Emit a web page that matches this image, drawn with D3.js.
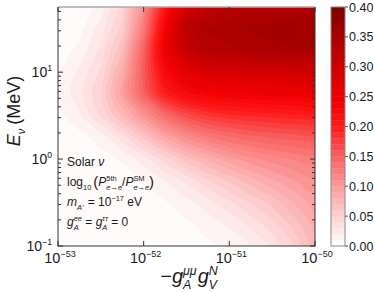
<!DOCTYPE html>
<html>
<head>
<meta charset="utf-8">
<script src="https://cdn.jsdelivr.net/npm/d3@7"></script>
<style>
body { margin: 0; background: #fff; }
text { font-family: "Liberation Sans", Arial, sans-serif; fill: #1a1a1a; white-space: pre; }
</style>
</head>
<body>
<svg width="374" height="292"></svg>
<script>
// grid: columns are log10(-gA gV), rows are log10(E / MeV), top row first
let logG = [-53, -52.75, -52.5, -52.25, -52, -51.75, -51.5, -51.25, -51, -50.75, -50.5, -50.25, -50];
let logE = [1.75, 1.5, 1.25, 1, 0.75, 0.5, 0.25, 0, -0.25, -0.5, -0.75, -1];
let ratio = [
    [0, 0.002, 0.014, 0.045, 0.11, 0.21, 0.285, 0.315, 0.33, 0.336, 0.34, 0.343, 0.345],
    [0.001, 0.006, 0.025, 0.055, 0.13, 0.235, 0.325, 0.342, 0.347, 0.352, 0.355, 0.357, 0.358],
    [0.004, 0.013, 0.033, 0.07, 0.15, 0.245, 0.31, 0.33, 0.336, 0.343, 0.347, 0.349, 0.35],
    [0.01, 0.022, 0.042, 0.085, 0.155, 0.225, 0.262, 0.277, 0.284, 0.287, 0.289, 0.29, 0.291],
    [0.012, 0.026, 0.05, 0.095, 0.15, 0.2, 0.225, 0.235, 0.24, 0.243, 0.245, 0.246, 0.247],
    [0.007, 0.018, 0.042, 0.072, 0.105, 0.14, 0.165, 0.18, 0.187, 0.191, 0.194, 0.196, 0.197],
    [0.004, 0.006, 0.014, 0.035, 0.062, 0.09, 0.112, 0.128, 0.139, 0.146, 0.151, 0.154, 0.156],
    [0.002, 0.003, 0.006, 0.011, 0.025, 0.045, 0.065, 0.082, 0.096, 0.107, 0.115, 0.121, 0.125],
    [0.001, 0.002, 0.003, 0.005, 0.01, 0.02, 0.033, 0.048, 0.062, 0.076, 0.088, 0.099, 0.108],
    [0.001, 0.001, 0.002, 0.003, 0.005, 0.009, 0.016, 0.026, 0.038, 0.051, 0.064, 0.08, 0.095],
    [0, 0.001, 0.001, 0.002, 0.003, 0.005, 0.008, 0.014, 0.022, 0.033, 0.046, 0.064, 0.084],
    [0, 0, 0.001, 0.001, 0.002, 0.003, 0.005, 0.008, 0.012, 0.02, 0.032, 0.05, 0.075],
];
let levels = d3.range(41).map(i => i / 100);
let xTicks = [-53, -52, -51, -50];
let yTicks = [-1, 0, 1];
let barTicks = [0, 0.05, 0.1, 0.15, 0.2, 0.25, 0.3, 0.35, 0.4];

let svg = d3.select("svg");
let x = d3.scaleLinear().domain([-53, -50]).range([58, 315]);
let y = d3.scaleLinear().domain([-1, 1.75]).range([246, 7]);
let color = d3.scaleLinear()
    .domain([0, 0.05, 0.1, 0.15, 0.2, 0.24, 0.3, 0.35, 0.4])
    .range(['#ffffff', '#fdd3d3', '#fb9b9b', '#f86262', '#ff1a1a', '#f20000', '#cc0000', '#a80000', '#7f0000']);

// grid index -> pixel (d3.contours puts sample i at i + 0.5)
let gx = d3.scaleLinear().domain([0.5, logG.length - 0.5]).range([x(logG[0]), x(logG[logG.length - 1])]);
let gy = d3.scaleLinear().domain([0.5, logE.length - 0.5]).range([y(logE[0]), y(logE[logE.length - 1])]);

svg.append('clipPath').attr('id', 'clip')
    .append('rect').attr('x', 58).attr('y', 7).attr('width', 257).attr('height', 239);

let plot = svg.append('g').attr('clip-path', 'url(#clip)');
plot.append('rect').attr('x', 58).attr('y', 7).attr('width', 257).attr('height', 239).attr('fill', '#fff');

let bands = d3.contours().size([logG.length, logE.length]).thresholds(levels)(ratio.flat());
let ring = d3.line().curve(d3.curveCatmullRomClosed.alpha(0.5));
plot.selectAll('path').data(bands).join('path')
    .attr('d', d => d.coordinates.map(poly => poly.map(r =>
        ring(r.slice(0, -1).map(p => [gx(p[0]), gy(p[1])]))).join('')).join(''))
    .attr('fill', d => color(d.value + 0.005));

// frame
let frame = svg.append('g').attr('stroke', '#333').attr('stroke-width', 1);
frame.append('line').attr('x1', 58).attr('x2', 58).attr('y1', 7).attr('y2', 246.5);
frame.append('line').attr('x1', 315).attr('x2', 315).attr('y1', 7).attr('y2', 246.5);
frame.append('line').attr('x1', 58).attr('x2', 315).attr('y1', 246).attr('y2', 246);
frame.append('line').attr('x1', 58).attr('x2', 315).attr('y1', 7).attr('y2', 7).attr('stroke', '#aaa').attr('stroke-width', 1.5);

// ticks
let minor = [];
for (let d of yTicks) for (let k = 2; k <= 9; k++) {
    let v = d + Math.log10(k);
    if (v < 1.75) minor.push(v);
}
let ticks = svg.append('g').attr('stroke', '#333').attr('stroke-width', 1);
for (let v of yTicks) {
    ticks.append('line').attr('x1', 58).attr('x2', 63).attr('y1', y(v)).attr('y2', y(v));
    ticks.append('line').attr('x1', 315).attr('x2', 310).attr('y1', y(v)).attr('y2', y(v));
}
for (let v of minor) {
    ticks.append('line').attr('x1', 58).attr('x2', 61).attr('y1', y(v)).attr('y2', y(v));
    ticks.append('line').attr('x1', 315).attr('x2', 312).attr('y1', y(v)).attr('y2', y(v));
}
for (let v of xTicks) {
    ticks.append('line').attr('x1', x(v)).attr('x2', x(v)).attr('y1', 246).attr('y2', 241);
    ticks.append('line').attr('x1', x(v)).attr('x2', x(v)).attr('y1', 7).attr('y2', 12);
}

// text with sub/superscripts laid out piece by piece
function put(g, t, px, py, s, it) {
    let n = g.append('text').attr('x', px).attr('y', py)
        .style('font-size', s + 'px').style('font-style', it ? 'italic' : null).text(t);
    return n.node().getComputedTextLength();
}
function mathText(tx, ty, pieces, size, anchor, rot) {
    let g = svg.append('g');
    let inner = g.append('g');
    let cx = 0;
    for (let p of pieces) {
        if (p.sup != null || p.sub != null) {
            let w = 0;
            if (p.sup != null) w = Math.max(w, put(inner, p.sup, cx, -size * 0.42, size * 0.62, p.supIt));
            if (p.sub != null) w = Math.max(w, put(inner, p.sub, cx, size * 0.3, size * 0.62, p.subIt));
            cx += w + (p.gap || 0);
        } else {
            cx += put(inner, p.t, cx, p.dy || 0, size * (p.k || 1), p.it);
        }
    }
    let shift = anchor == 'middle' ? -cx / 2 : anchor == 'end' ? -cx : 0;
    inner.attr('transform', `translate(${shift},0)`);
    g.attr('transform', `translate(${tx},${ty})` + (rot ? ` rotate(${rot})` : ''));
    return g;
}
function pow10(n) {
    return [{t: '10'}, {sup: n < 0 ? '\u2212' + (-n) : String(n)}];
}

for (let v of yTicks) mathText(52, y(v) + 5, pow10(v), 14, 'end');
for (let v of xTicks) mathText(x(v) + 2, 263, pow10(v), 14.5, 'middle');

mathText(189, 283, [{t: '\u2212'}, {t: 'g', it: true}, {sup: '\u03bc\u03bc', sub: 'A', supIt: true, subIt: true, gap: 1},
    {t: 'g', it: true}, {sup: 'N', sub: 'V', supIt: true, subIt: true}], 20, 'middle');
mathText(20, 111, [{t: 'E', it: true}, {sub: '\u03bd', subIt: true, gap: 4}, {t: '(MeV)'}], 18, 'middle', -90);

// annotation
mathText(67, 166, [{t: 'Solar '}, {t: '\u03bd', it: true}], 12, 'start');
mathText(67, 186, [{t: 'log'}, {sub: '10', gap: 2}, {t: '(', k: 1.25, dy: 1},
    {t: 'P', it: true}, {sup: '5th', sub: 'e\u2192e', subIt: true}, {t: '/'},
    {t: 'P', it: true}, {sup: 'SM', sub: 'e\u2192e', subIt: true}, {t: ')', k: 1.25, dy: 1}], 12, 'start');
mathText(67, 206, [{t: 'm', it: true}, {sub: 'A\u2032', subIt: true, gap: 1}, {t: ' = 10'}, {sup: '\u221217'}, {t: ' eV'}], 12, 'start');
mathText(67, 226, [{t: 'g', it: true}, {sup: 'ee', sub: 'A', supIt: true, subIt: true}, {t: ' = '},
    {t: 'g', it: true}, {sup: '\u03c4\u03c4', sub: 'A', supIt: true, subIt: true}, {t: ' = 0'}], 12, 'start');

// colour bar
let c = d3.scaleLinear().domain([0, 0.4]).range([246, 7]);
let bar = svg.append('g');
bar.selectAll('rect').data(levels.slice(0, -1)).join('rect')
    .attr('x', 331).attr('width', 14)
    .attr('y', d => c(d + 0.01)).attr('height', d => c(d) - c(d + 0.01) + 0.3)
    .attr('fill', d => color(d + 0.005));
bar.append('rect').attr('x', 331).attr('y', 7).attr('width', 14).attr('height', 239)
    .attr('fill', 'none').attr('stroke', '#888').attr('stroke-width', 1);
for (let v of barTicks) {
    bar.append('line').attr('x1', 345).attr('x2', 348).attr('y1', c(v)).attr('y2', c(v))
        .attr('stroke', '#555');
    bar.append('text').attr('x', 349).attr('y', c(v) + 4.5).style('font-size', '12.5px').text(v.toFixed(2));
}
</script>
</body>
</html>
